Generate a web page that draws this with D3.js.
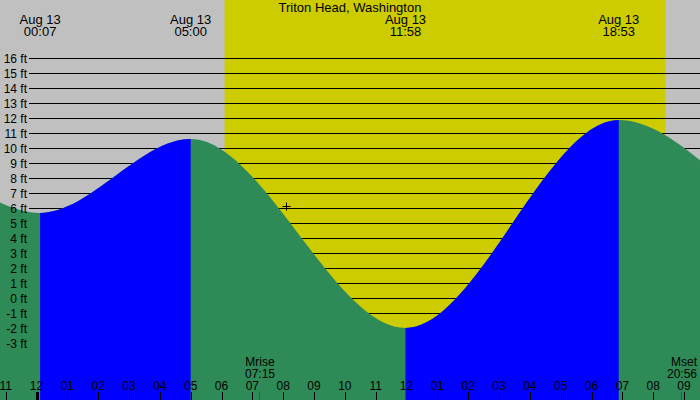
<!DOCTYPE html>
<html>
<head>
<meta charset="utf-8">
<script src="https://cdn.jsdelivr.net/npm/d3@7"></script>
<style>
  body { margin: 0; background: #c0c0c0; }
  svg { display: block; }
  text { font-family: "Liberation Sans", Arial, sans-serif; fill: #000; }
</style>
</head>
<body>
<div id="chart"></div>
<script>
var width = 700,
    height = 400;

// tide extremes, hours from midnight Aug 13 (outer ones fall outside the frame)
var extremeHours = [-12.6, -6.2, 0.117, 5.0, 11.967, 18.883, 25.6, 31.8];
var extremeFeet  = [0.5, 12.0, 5.67, 10.6, -2.0, 11.87, 4.0, 10.5];
var extremeLabels = [null, null, "00:07", "05:00", "11:58", "18:53", null, null];

var levelTicks = [16, 15, 14, 13, 12, 11, 10, 9, 8, 7, 6, 5, 4, 3, 2, 1, 0, -1, -2, -3];
var hourTicks = d3.range(-1, 22);

var sunHours = [6.1, 20.4];
var moonEvents = [
  {name: "Mrise", time: "07:15", hour: 7.25},
  {name: "Mset", time: "20:56", hour: 20.933}
];
var nowMark = {hour: 8.08, feet: 6.15};

var x = d3.scaleLinear().domain([0, 12]).range([36.5, 406.5]);
var y = d3.scaleLinear().domain([0, 16]).range([298, 58]);

var svg = d3.select("#chart")
    .append("svg")
    .attr("width", width)
    .attr("height", height);

svg.append("rect")
    .attr("width", width)
    .attr("height", height)
    .style("fill", "#c0c0c0");

svg.append("rect")
    .attr("x", x(sunHours[0]))
    .attr("y", 0)
    .attr("width", x(sunHours[1]) - x(sunHours[0]))
    .attr("height", height)
    .style("fill", "#cccc00");

// level grid
svg.selectAll(".grid")
    .data(levelTicks)
    .enter().append("line")
    .attr("x1", 29)
    .attr("x2", width)
    .attr("y1", function(d) { return Math.round(y(d)) + 0.5; })
    .attr("y2", function(d) { return Math.round(y(d)) + 0.5; })
    .style("stroke", "#000")
    .style("stroke-width", "1px");

var points = extremeHours.map(function(h, i) { return [h, extremeFeet[i]]; });

var area = d3.area()
    .x(function(d) { return x(d[0]); })
    .y0(height)
    .y1(function(d) { return y(d[1]); })
    .curve(d3.curveMonotoneX);

svg.append("path")
    .attr("d", area(points))
    .style("fill", "#2e8b57");

// rising stretches in blue
var rising = [];
for (var i = 0; i < points.length - 1; i++) {
  if (extremeFeet[i + 1] > extremeFeet[i]) rising.push([extremeHours[i], extremeHours[i + 1]]);
}
var defs = svg.append("defs");
var clip = defs.append("clipPath").attr("id", "rising");
clip.selectAll("rect")
    .data(rising)
    .enter().append("rect")
    .attr("x", function(d) { return x(d[0]); })
    .attr("y", 0)
    .attr("width", function(d) { return x(d[1]) - x(d[0]); })
    .attr("height", height);

svg.append("path")
    .attr("d", area(points))
    .attr("clip-path", "url(#rising)")
    .style("fill", "#0000ff");

// level labels
svg.selectAll(".lvl")
    .data(levelTicks)
    .enter().append("text")
    .attr("x", 27)
    .attr("y", function(d) { return y(d) + 4.5; })
    .attr("text-anchor", "end")
    .style("font-size", "12px")
    .text(function(d) { return d + " ft"; });

// title and extreme times
svg.append("text")
    .attr("x", 350)
    .attr("y", 11.5)
    .attr("text-anchor", "middle")
    .style("font-size", "13px")
    .text("Triton Head, Washington");

var labelled = extremeHours.filter(function(h, i) { return extremeLabels[i]; });
var extLabel = svg.selectAll(".ext")
    .data(labelled)
    .enter().append("g")
    .attr("transform", function(d) { return "translate(" + x(d) + ",0)"; });
extLabel.append("text")
    .attr("y", 23.5)
    .attr("text-anchor", "middle")
    .style("font-size", "13px")
    .text("Aug 13");
extLabel.append("text")
    .attr("y", 36)
    .attr("text-anchor", "middle")
    .style("font-size", "13px")
    .text(function(d) { return extremeLabels[extremeHours.indexOf(d)]; });

// hour axis
svg.selectAll(".tick")
    .data(hourTicks)
    .enter().append("line")
    .attr("x1", function(d) { return Math.round(x(d)) + 0.5; })
    .attr("x2", function(d) { return Math.round(x(d)) + 0.5; })
    .attr("y1", 392)
    .attr("y2", height)
    .style("stroke", "#000")
    .style("stroke-width", function(d) { return d % 24 === 0 ? "3px" : "1px"; });

svg.selectAll(".hr")
    .data(hourTicks)
    .enter().append("text")
    .attr("x", function(d) { return x(d); })
    .attr("y", 390)
    .attr("text-anchor", "middle")
    .style("font-size", "12px")
    .text(function(d) {
      var h = ((d % 12) + 12) % 12 || 12;
      return (h < 10 ? "0" : "") + h;
    });

// moon rise / set
svg.selectAll(".moon")
    .data(moonEvents)
    .enter().append("line")
    .attr("x1", function(d) { return Math.round(x(d.hour)) - 0.5; })
    .attr("x2", function(d) { return Math.round(x(d.hour)) - 0.5; })
    .attr("y1", 392)
    .attr("y2", height)
    .style("stroke", "#ff0000")
    .style("stroke-width", "1px");

moonEvents.forEach(function(d, i) {
  var last = i === moonEvents.length - 1;
  var px = last ? 697 : x(d.hour);
  var anchor = last ? "end" : "middle";
  svg.append("text").attr("x", px).attr("y", 366)
      .attr("text-anchor", anchor).style("font-size", "12px").text(d.name);
  svg.append("text").attr("x", px).attr("y", 378)
      .attr("text-anchor", anchor).style("font-size", "12px").text(d.time);
});

// current time cross
var cx = Math.round(x(nowMark.hour)) + 0.5,
    cy = Math.round(y(nowMark.feet)) + 0.5;
svg.append("path")
    .attr("d", "M" + (cx - 4) + "," + cy + "H" + (cx + 4) + "M" + cx + "," + (cy - 4) + "V" + (cy + 4))
    .style("stroke", "#000")
    .style("stroke-width", "1px");
</script>
</body>
</html>
